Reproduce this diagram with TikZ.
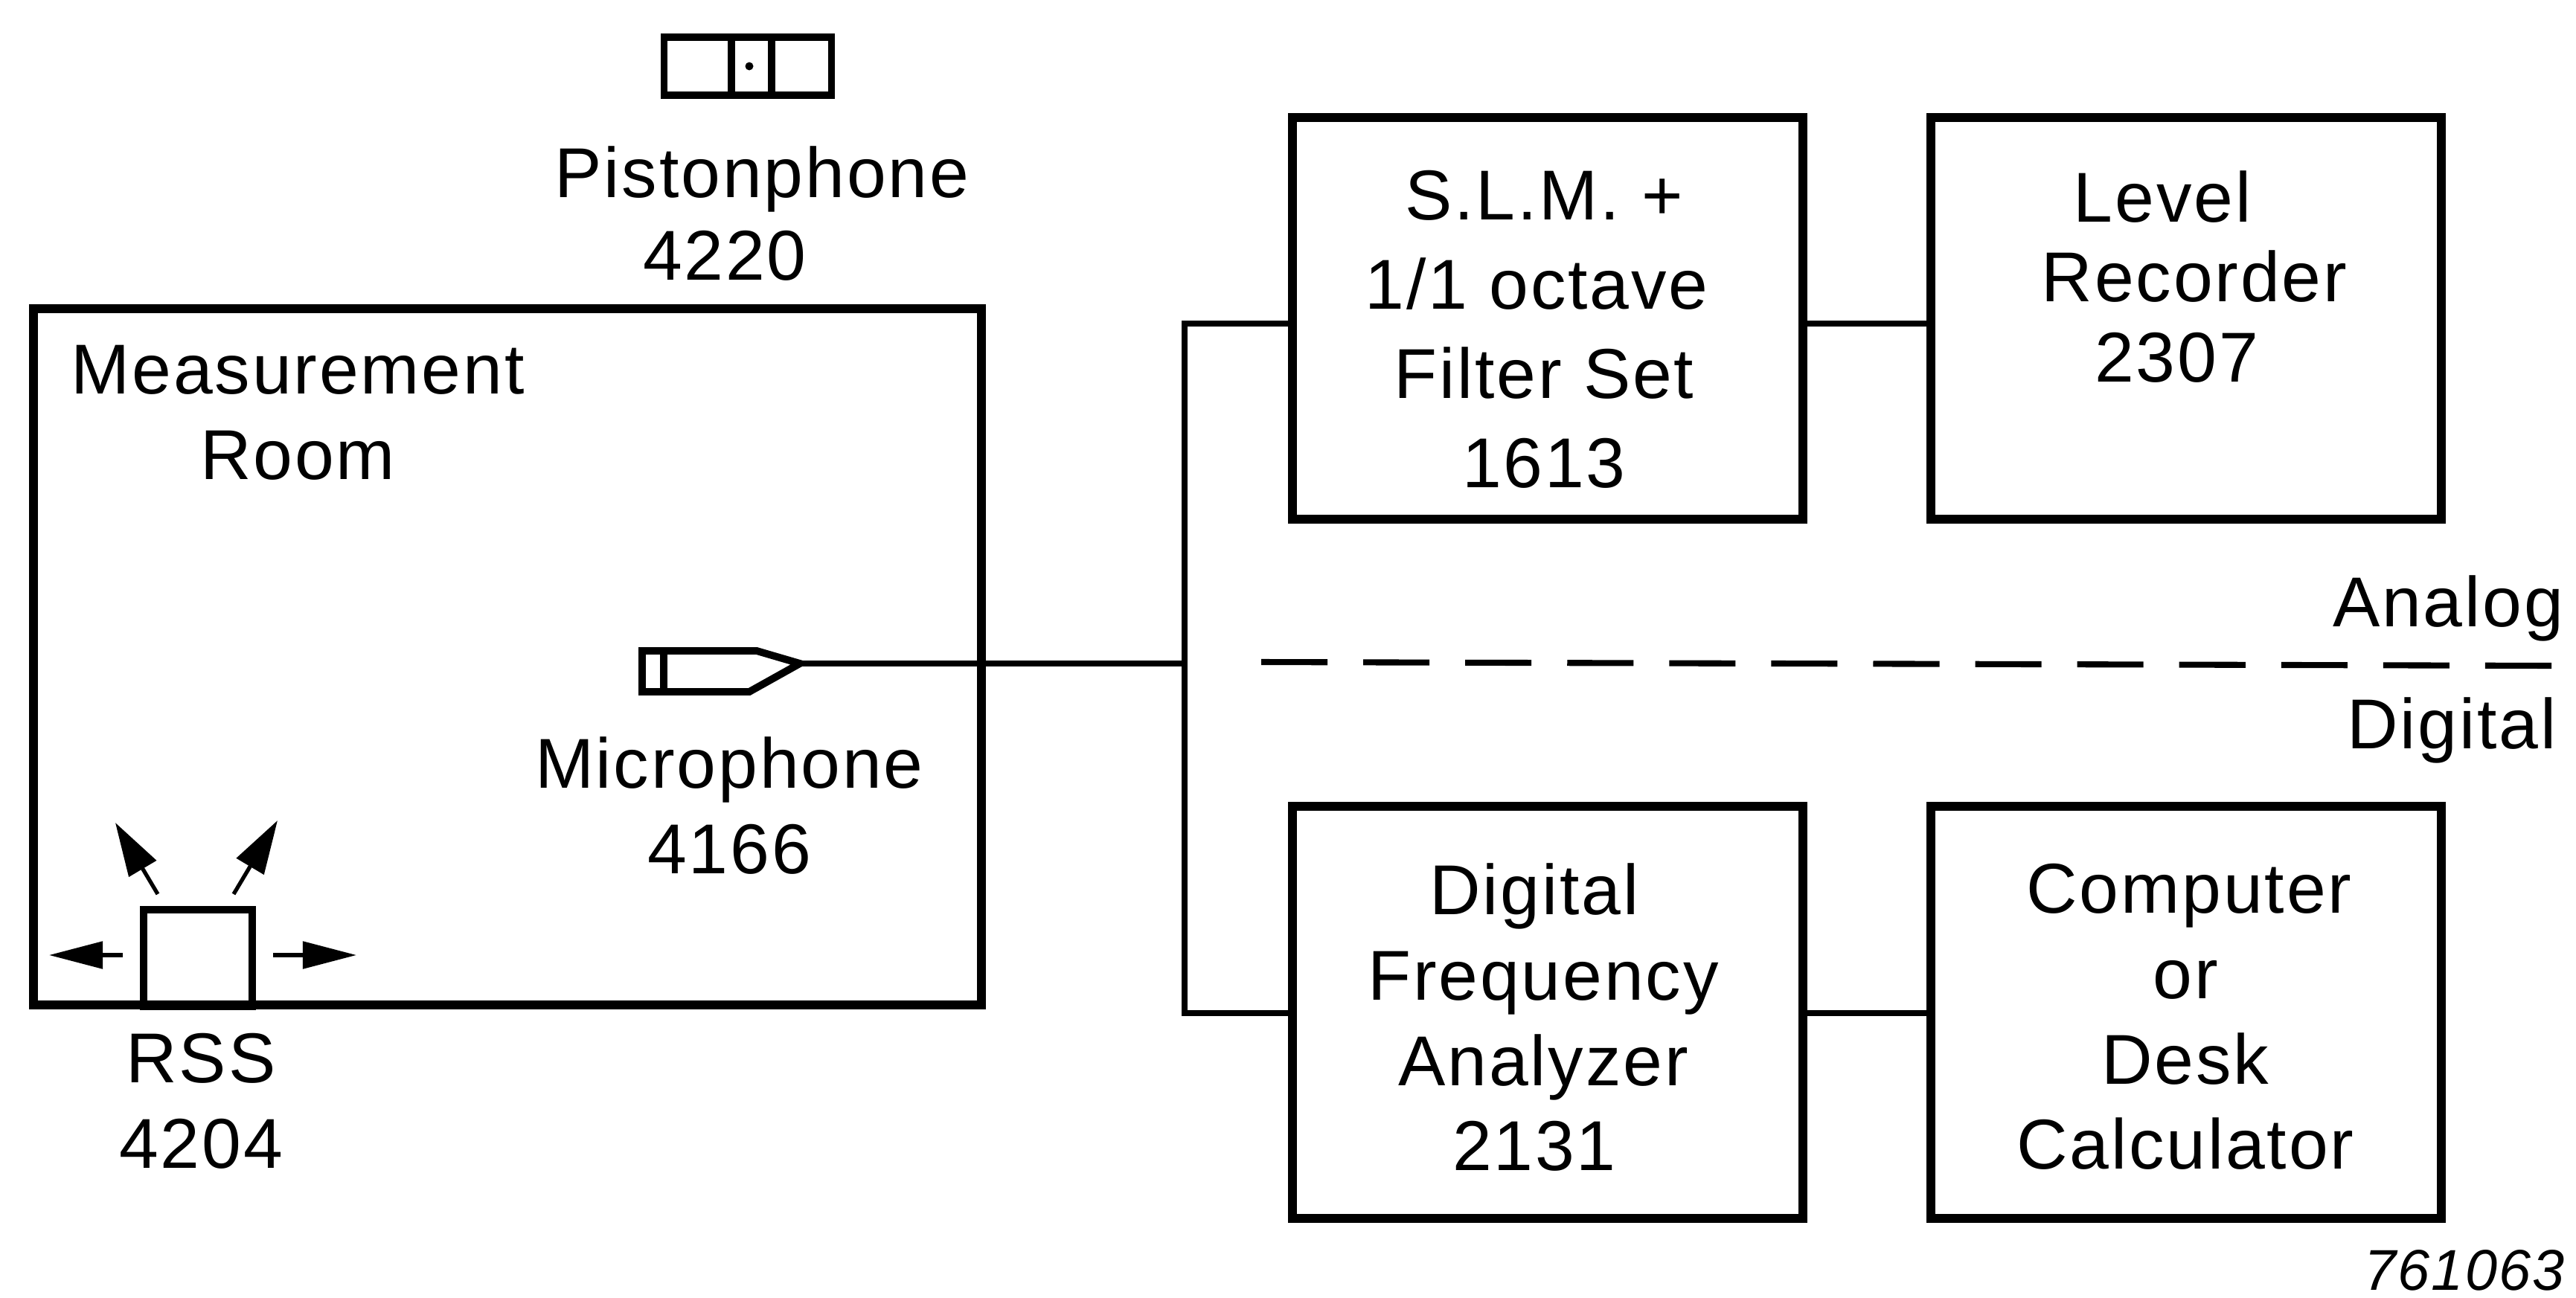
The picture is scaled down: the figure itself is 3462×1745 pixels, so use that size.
\documentclass[tikz,border=0pt]{standalone}
\usepackage{fontspec}
\setmainfont[LetterSpace=3]{Liberation Sans}
\usetikzlibrary{arrows.meta, positioning}
\tikzset{
  every node/.style={font=\fontsize{27}{32.6}\selectfont, align=center, inner sep=0pt},
  blockbox/.style={draw, line width=3.4pt, minimum width=6.86cm, outer sep=0pt},
  thinbox/.style={draw, line width=2.8pt, outer sep=0pt},
  wire/.style={line width=2.1pt},
  radiate/.style={line width=1.5pt, -{Triangle[length=0.72cm, width=0.36cm]}},
  radiateup/.style={line width=1.5pt, -{Triangle[length=0.72cm, width=0.42cm]}},
}

\begin{document}
\begin{tikzpicture}[x=0.01cm, y=-0.01cm]
  \useasboundingbox (0,0) rectangle (3462,1745);

  \node[blockbox, minimum width=12.74cm, minimum height=9.36cm] (room) at (682,883) {};
  \node (roomtext) at (400,555) {Measurement\\Room};

  \node[blockbox, minimum height=5.39cm] (slm)   at (2080,428)  {};
  \node[blockbox, minimum height=5.39cm] (level) at (2938,428)  {};
  \node[blockbox, minimum height=5.53cm] (dfa)   at (2080,1361) {};
  \node[blockbox, minimum height=5.53cm] (calc)  at (2938,1361) {};

  \node (slmtext)   at (2075,443)  {S.L.M. +\\[1.5pt]\hspace*{-0.2cm}1/1 octave\\[1.5pt]Filter Set\\[1.5pt]1613};
  \node (leveltext) at (2925,372)  {\hspace*{-0.38cm}Level\\[-2pt]\hspace*{0.48cm}Recorder\\[-2pt]2307};
  \node (dfatext)   at (2074,1368) {\hspace*{-0.24cm}Digital\\Frequency\\Analyzer\\\hspace*{-0.24cm}2131};
  \node (calctext)  at (2937,1367) {\hspace*{0.1cm}Computer\\or\\Desk\\Calculator};

  \node[thinbox, minimum width=2.25cm, minimum height=0.78cm] (piston) at (1005,89) {};
  \draw[thinbox] (983,50) -- (983,128);
  \draw[thinbox] (1037,50) -- (1037,128);
  \fill (1007,89) circle (5.5);
  \node (pistontext) at (1024,287) {Pistonphone\\[-1pt]\hspace*{-1cm}4220};

  \node[thinbox, minimum width=1.46cm, minimum height=1.3cm, anchor=south] (rss) at (266,1353) {};
  \node (rsstext) at (270,1480) {RSS\\4204};

  \coordinate (mictip) at (1075,892);
  \draw[thinbox] (863,875) -- (1017,875) -- (mictip) -- (1007,930) -- (863,930) -- cycle;
  \draw[thinbox] (892,875) -- (892,930);
  \node (mictext) at (980,1083) {Microphone\\4166};

  \coordinate (jtop) at (1592,435);
  \coordinate (jmid) at (1592,892);
  \coordinate (jbot) at (1592,1362);
  \draw[wire] (slm.west |- jtop) -- (jtop) -- (jbot) -- (dfa.west |- jbot);
  \draw[wire] (mictip) -- (jmid);
  \draw[wire] (slm.east |- jtop) -- (level.west |- jtop);
  \draw[wire] (dfa.east |- jbot) -- (calc.west |- jbot);

  \coordinate (lstart) at (165,1284);
  \coordinate (lend) at (66,1284);
  \coordinate (rstart) at (367,1284);
  \coordinate (rend) at (479,1284);
  \coordinate (ulstart) at (212,1202);
  \coordinate (ulend) at (155,1106);
  \coordinate (urstart) at (314,1202);
  \coordinate (urend) at (373,1103);
  \draw[radiate] (lstart) -- (lend);
  \draw[radiate] (rstart) -- (rend);
  \draw[radiateup] (ulstart) -- (ulend);
  \draw[radiateup] (urstart) -- (urend);

  \coordinate (splitl) at (1695,890);
  \coordinate (splitr) at (3429,895);
  \draw[wire, line width=2.3pt, dash pattern=on 0.89cm off 0.48cm] (splitl) -- (splitr);
  \node (analog) at (3290,818) {Analog};
  \node (digital) at (3295,982) {Digital};

  \node[font=\fontsize{22}{26}\selectfont\itshape] (refno) at (3312,1708) {761063};
\end{tikzpicture}
\end{document}
